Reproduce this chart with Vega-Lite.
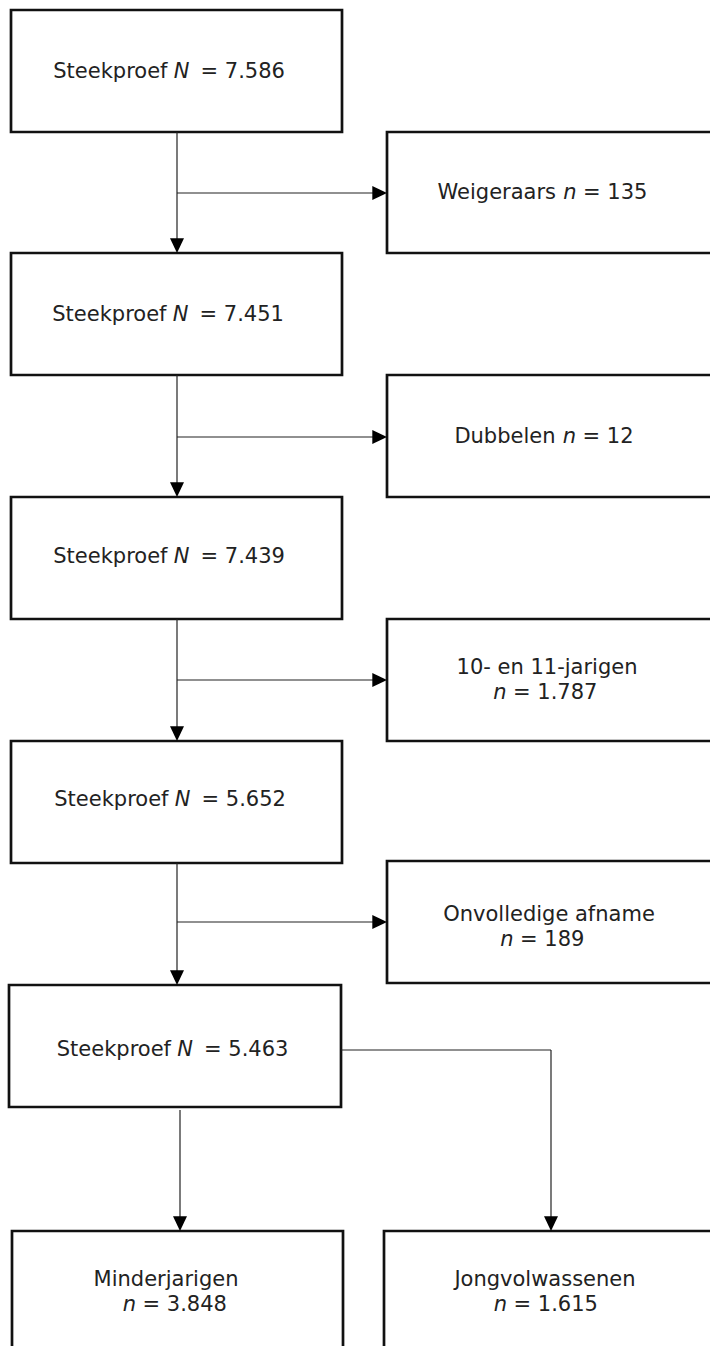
{
  "$schema": "https://vega.github.io/schema/vega-lite/v6.json",
  "width": 710,
  "height": 1346,
  "padding": 0,
  "autosize": {"type": "none"},
  "background": "white",
  "config": {"view": {"stroke": null}},
  "datasets": {
    "boxes": [
      {"id": "B1", "x": 11, "x2": 342, "y": 10, "y2": 132},
      {"id": "R1", "x": 387, "x2": 722, "y": 132, "y2": 253},
      {"id": "B2", "x": 11, "x2": 342, "y": 253, "y2": 375},
      {"id": "R2", "x": 387, "x2": 722, "y": 375, "y2": 497},
      {"id": "B3", "x": 11, "x2": 342, "y": 497, "y2": 619},
      {"id": "R3", "x": 387, "x2": 722, "y": 619, "y2": 741},
      {"id": "B4", "x": 11, "x2": 342, "y": 741, "y2": 863},
      {"id": "R4", "x": 387, "x2": 722, "y": 861, "y2": 983},
      {"id": "B5", "x": 9, "x2": 341, "y": 985, "y2": 1107},
      {"id": "BL", "x": 12, "x2": 343, "y": 1231, "y2": 1362},
      {"id": "BR", "x": 384, "x2": 722, "y": 1231, "y2": 1362}
    ],
    "lines": [
      {"x": 177, "y": 132, "x2": 177, "y2": 245},
      {"x": 177, "y": 375, "x2": 177, "y2": 489},
      {"x": 177, "y": 619, "x2": 177, "y2": 733},
      {"x": 177, "y": 863, "x2": 177, "y2": 977},
      {"x": 177, "y": 193, "x2": 379, "y2": 193},
      {"x": 177, "y": 437, "x2": 379, "y2": 437},
      {"x": 177, "y": 680, "x2": 379, "y2": 680},
      {"x": 177, "y": 922, "x2": 379, "y2": 922},
      {"x": 180, "y": 1110, "x2": 180, "y2": 1223},
      {"x": 341, "y": 1050, "x2": 551, "y2": 1050},
      {"x": 551, "y": 1050, "x2": 551, "y2": 1223}
    ],
    "arrows": [
      {"dir": "down", "x": 177, "y": 253},
      {"dir": "down", "x": 177, "y": 497},
      {"dir": "down", "x": 177, "y": 741},
      {"dir": "down", "x": 177, "y": 985},
      {"dir": "down", "x": 180, "y": 1231},
      {"dir": "down", "x": 551, "y": 1231},
      {"dir": "right", "x": 387, "y": 193},
      {"dir": "right", "x": 387, "y": 437},
      {"dir": "right", "x": 387, "y": 680},
      {"dir": "right", "x": 387, "y": 922}
    ],
    "labels": [
      {"pre": "Steekproef", "sym": "N", "post": "= 7.586", "x": 181.5, "y": 72},
      {"pre": "Steekproef", "sym": "N", "post": "= 7.451", "x": 180.5, "y": 315},
      {"pre": "Steekproef", "sym": "N", "post": "= 7.439", "x": 181.5, "y": 557},
      {"pre": "Steekproef", "sym": "N", "post": "= 5.652", "x": 182.5, "y": 800},
      {"pre": "Steekproef", "sym": "N", "post": "= 5.463", "x": 185, "y": 1050},
      {"pre": "Weigeraars", "sym": "n", "post": "= 135", "x": 570, "y": 193},
      {"pre": "Dubbelen", "sym": "n", "post": "= 12", "x": 569.5, "y": 437},
      {"pre": "", "sym": "n", "post": "= 1.787", "x": 500, "y": 693},
      {"pre": "", "sym": "n", "post": "= 189", "x": 507, "y": 940},
      {"pre": "", "sym": "n", "post": "= 3.848", "x": 129.5, "y": 1305},
      {"pre": "", "sym": "n", "post": "= 1.615", "x": 500.5, "y": 1305}
    ],
    "plain": [
      {"text": "10- en 11-jarigen", "x": 547, "y": 668},
      {"text": "Onvolledige afname", "x": 549, "y": 915},
      {"text": "Minderjarigen", "x": 166, "y": 1280},
      {"text": "Jongvolwassenen", "x": 545, "y": 1280}
    ]
  },
  "encoding": {
    "x": {"field": "x", "type": "quantitative", "scale": {"domain": [0, 710], "nice": false, "zero": false}, "axis": null},
    "y": {"field": "y", "type": "quantitative", "scale": {"domain": [0, 1346], "nice": false, "zero": false, "reverse": true}, "axis": null}
  },
  "layer": [
    {
      "data": {"name": "boxes"},
      "mark": {"type": "rect", "fill": "white", "stroke": "#111111", "strokeWidth": 2.7},
      "encoding": {
        "x2": {"field": "x2"},
        "y2": {"field": "y2"}
      }
    },
    {
      "data": {"name": "lines"},
      "mark": {"type": "rule", "stroke": "#222222", "strokeWidth": 1.2},
      "encoding": {
        "x2": {"field": "x2"},
        "y2": {"field": "y2"}
      }
    },
    {
      "data": {"name": "arrows"},
      "transform": [{"filter": "datum.dir === 'down'"}],
      "mark": {"type": "point", "shape": "M-1,-2.1L1,-2.1L0,0Z", "filled": true, "fill": "#000000", "opacity": 1, "size": 196, "strokeWidth": 0}
    },
    {
      "data": {"name": "arrows"},
      "transform": [{"filter": "datum.dir === 'right'"}],
      "mark": {"type": "point", "shape": "M-2.1,-1L-2.1,1L0,0Z", "filled": true, "fill": "#000000", "opacity": 1, "size": 196, "strokeWidth": 0}
    },
    {
      "data": {"name": "labels"},
      "mark": {"type": "text", "align": "right", "baseline": "middle", "dx": -14, "font": "DejaVu Sans", "fontSize": 21, "fill": "#222222"},
      "encoding": {"text": {"field": "pre"}}
    },
    {
      "data": {"name": "labels"},
      "mark": {"type": "text", "align": "center", "baseline": "middle", "font": "DejaVu Sans", "fontStyle": "italic", "fontSize": 21, "fill": "#222222"},
      "encoding": {"text": {"field": "sym"}}
    },
    {
      "data": {"name": "labels"},
      "transform": [{"filter": "datum.sym === 'N'"}],
      "mark": {"type": "text", "align": "left", "baseline": "middle", "dx": 19, "font": "DejaVu Sans", "fontSize": 21, "fill": "#222222"},
      "encoding": {"text": {"field": "post"}}
    },
    {
      "data": {"name": "labels"},
      "transform": [{"filter": "datum.sym === 'n'"}],
      "mark": {"type": "text", "align": "left", "baseline": "middle", "dx": 13, "font": "DejaVu Sans", "fontSize": 21, "fill": "#222222"},
      "encoding": {"text": {"field": "post"}}
    },
    {
      "data": {"name": "plain"},
      "mark": {"type": "text", "align": "center", "baseline": "middle", "font": "DejaVu Sans", "fontSize": 21, "fill": "#222222"},
      "encoding": {"text": {"field": "text"}}
    }
  ]
}
